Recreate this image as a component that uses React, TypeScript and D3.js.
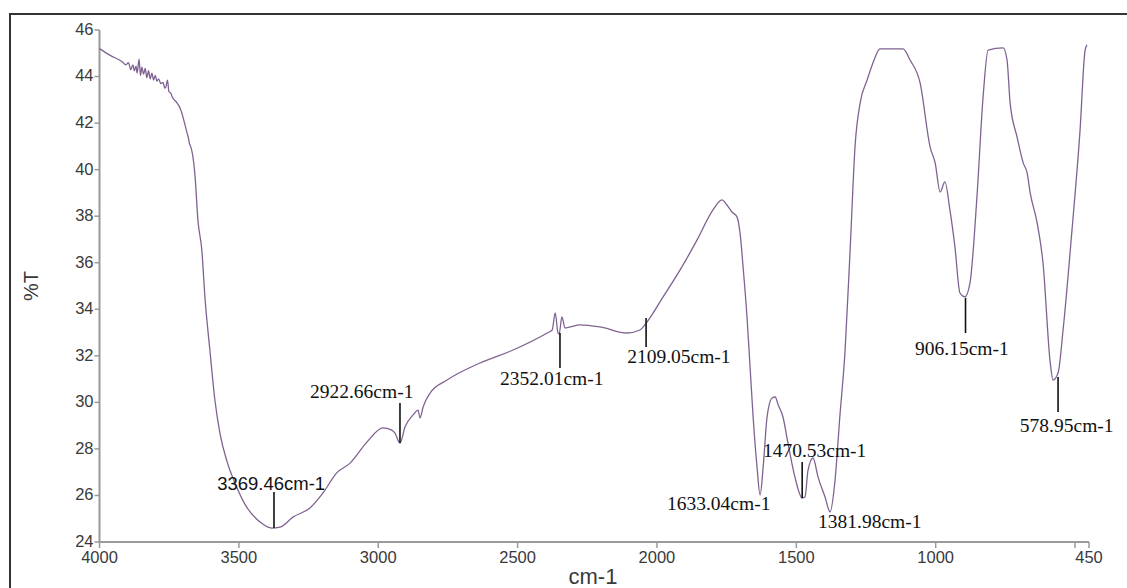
import React from "react";
import * as d3 from "d3";

// Spectrum: [wavenumber (cm-1), %T]
const spectrum: [number, number][] = [
  [4000, 45.2], [3960, 44.9], [3920, 44.65], [3905, 44.5], [3896, 44.6], [3888, 44.3],
  [3880, 44.5], [3875, 44.25], [3869, 44.45], [3865, 44.15], [3858, 44.75], [3853, 44.05],
  [3848, 44.4], [3842, 44.1], [3836, 44.35], [3830, 43.95], [3824, 44.25], [3818, 43.9],
  [3812, 44.15], [3806, 43.85], [3800, 44.05], [3794, 43.8], [3788, 43.9], [3780, 43.7],
  [3772, 43.75], [3766, 43.5], [3762, 43.55], [3756, 43.85], [3751, 43.35], [3745, 43.3],
  [3738, 43.1], [3722, 42.87], [3711, 42.65], [3686, 41.58], [3680, 41.3], [3677, 41.1],
  [3675, 41.06], [3657, 39.69], [3647, 37.84], [3633, 36.55], [3621, 34.4], [3604, 32.25],
  [3586, 30.1], [3568, 28.68], [3544, 27.52], [3514, 26.54], [3472, 25.5], [3424, 24.86],
  [3382, 24.6], [3352, 24.64], [3306, 25.07], [3245, 25.46], [3198, 26.11], [3149, 26.97],
  [3101, 27.39], [3040, 28.3], [2983, 28.9], [2952, 28.81], [2940, 28.68], [2922, 28.25],
  [2904, 28.94], [2875, 29.46], [2857, 29.67], [2850, 29.33], [2839, 29.8], [2814, 30.4],
  [2753, 30.96], [2635, 31.69], [2516, 32.25], [2394, 32.98], [2376, 33.11], [2365, 33.84],
  [2355, 32.98], [2351, 32.94], [2341, 33.67], [2330, 33.2], [2312, 33.24], [2276, 33.33],
  [2204, 33.24], [2107, 32.98], [2061, 33.11], [2036, 33.45], [1978, 34.53], [1917, 35.69],
  [1856, 36.98], [1799, 38.27], [1767, 38.7], [1749, 38.48], [1731, 38.18], [1713, 37.97],
  [1702, 37.28], [1691, 35.82], [1677, 33.67], [1666, 31.52], [1655, 29.37], [1641, 27.22],
  [1630, 26.02], [1619, 27.22], [1605, 29.37], [1587, 30.19], [1576, 30.23], [1565, 29.89],
  [1548, 29.37], [1530, 28.25], [1505, 26.79], [1479, 25.89], [1469, 25.93], [1458, 27.09],
  [1440, 27.61], [1422, 26.79], [1397, 25.93], [1379, 25.29], [1362, 26.54], [1344, 29.37],
  [1325, 32.25], [1307, 36.55], [1289, 41.06], [1271, 42.87], [1246, 43.85], [1221, 44.71],
  [1200, 45.19], [1117, 45.19], [1092, 44.71], [1056, 43.73], [1020, 40.97], [1002, 40.29],
  [984, 39.04], [967, 39.47], [949, 38.27], [931, 36.68], [913, 34.7], [895, 34.53],
  [877, 35.13], [852, 38.83], [830, 43.12], [812, 45.14], [758, 45.23], [744, 44.71],
  [733, 42.87], [708, 41.4], [686, 40.29], [672, 39.86], [661, 39.0], [636, 37.71],
  [615, 35.99], [589, 31.69], [579, 30.96], [561, 31.26], [543, 33.11], [511, 37.41],
  [482, 41.71], [464, 45.14], [457, 45.36],
];

const xTicks = [4000, 3500, 3000, 2500, 2000, 1500, 1000, 500, 450];
const xTickLabels = ["4000", "3500", "3000", "2500", "2000", "1500", "1000", "", "450"];
const yTicks = [24, 26, 28, 30, 32, 34, 36, 38, 40, 42, 44, 46];

// Peak annotations: label, marker wavenumber, marker top/bottom %T (null = no marker),
// label anchor (wavenumber, %T at baseline), sans flag
type Ann = { label: string; w: number | null; t1: number; t2: number; lw: number; lt: number; sans?: boolean };
const annotations: Ann[] = [
  { label: "3369.46cm-1", w: 3374, t1: 26.15, t2: 24.6, lw: 3578, lt: 26.23, sans: true },
  { label: "2922.66cm-1", w: 2922, t1: 29.97, t2: 28.25, lw: 3245, lt: 30.19 },
  { label: "2352.01cm-1", w: 2348, t1: 32.98, t2: 31.48, lw: 2563, lt: 30.75 },
  { label: "2109.05cm-1", w: 2039, t1: 33.63, t2: 32.38, lw: 2107, lt: 31.69 },
  { label: "1633.04cm-1", w: null, t1: 0, t2: 0, lw: 1964, lt: 25.38 },
  { label: "1470.53cm-1", w: 1479, t1: 27.44, t2: 25.89, lw: 1620, lt: 27.65 },
  { label: "1381.98cm-1", w: null, t1: 0, t2: 0, lw: 1422, lt: 24.6 },
  { label: "906.15cm-1", w: 893, t1: 34.49, t2: 32.98, lw: 1074, lt: 32.04 },
  { label: "578.95cm-1", w: 561, t1: 31.09, t2: 29.59, lw: 698, lt: 28.73 },
];

const W = 1127;
const H = 588;

export default function App() {
  const x = d3.scaleLinear().domain([4000, 450]).range([99.5, 1089]);
  const y = d3.scaleLinear().domain([24, 46]).range([542, 30]);
  const line = d3
    .line<[number, number]>()
    .x((d) => x(d[0]))
    .y((d) => y(d[1]))
    .curve(d3.curveMonotoneX);

  const sans = "Arial, 'Liberation Sans', sans-serif";
  const serif = "'Times New Roman', 'Liberation Serif', serif";
  const axisColor = "#9a9a9a";
  const textColor = "#3a3a3a";

  return (
    <svg
      width={W}
      height={H}
      style={{ position: "absolute", left: 0, top: 0, background: "#fff" }}
    >
      <rect x={10} y={14} width={1140} height={620} fill="#fff" stroke="#333" strokeWidth={2} />

      {/* Y axis */}
      <line x1={x(4000)} x2={x(4000)} y1={y(46)} y2={y(24)} stroke={axisColor} strokeWidth={2} />
      {yTicks.map((t) => (
        <g key={"y" + t}>
          <line x1={x(4000) - 5} x2={x(4000)} y1={y(t)} y2={y(t)} stroke={axisColor} strokeWidth={1.5} />
          <text
            x={x(4000) - 6}
            y={y(t)}
            dy="0.3em"
            textAnchor="end"
            fontFamily={sans}
            fontSize={16.5}
            fill={textColor}
          >
            {t}
          </text>
        </g>
      ))}

      {/* X axis */}
      <line x1={x(4000)} x2={x(450)} y1={y(24)} y2={y(24)} stroke={axisColor} strokeWidth={2} />
      {xTicks.map((w, i) => (
        <g key={"x" + w}>
          <line x1={x(w)} x2={x(w)} y1={y(24)} y2={y(24) + 6} stroke={axisColor} strokeWidth={1.5} />
          <text
            x={x(w)}
            y={y(24) + 21}
            textAnchor="middle"
            fontFamily={sans}
            fontSize={16.5}
            fill={textColor}
          >
            {xTickLabels[i]}
          </text>
        </g>
      ))}

      {/* Axis titles */}
      <text
        transform={`translate(38, 286) rotate(-90)`}
        textAnchor="middle"
        fontFamily={sans}
        fontSize={20}
        fill={textColor}
      >
        %T
      </text>
      <text x={593} y={584} textAnchor="middle" fontFamily={sans} fontSize={22} fill={textColor}>
        cm-1
      </text>

      {/* Spectrum */}
      <path d={line(spectrum) ?? ""} fill="none" stroke="#806292" strokeWidth={1.3} />

      {/* Annotations */}
      {annotations.map((a) => (
        <g key={a.label}>
          {a.w !== null && (
            <line x1={x(a.w)} x2={x(a.w)} y1={y(a.t1)} y2={y(a.t2)} stroke="#111" strokeWidth={1.6} />
          )}
          <text
            x={x(a.lw)}
            y={y(a.lt)}
            fontFamily={a.sans ? sans : serif}
            fontSize={a.sans ? 18.5 : 19.5}
            fill="#111"
          >
            {a.label}
          </text>
        </g>
      ))}
    </svg>
  );
}
